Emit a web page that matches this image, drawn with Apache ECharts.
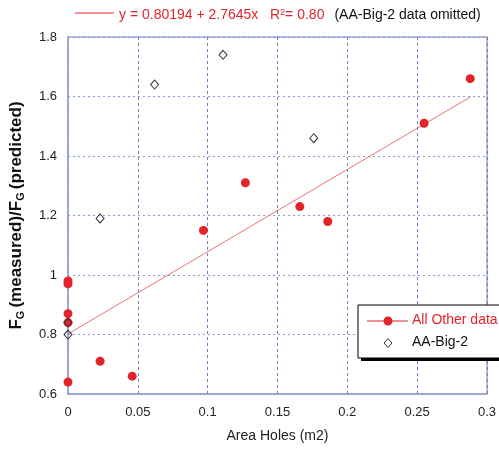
<!DOCTYPE html>
<html>
<head>
<meta charset="utf-8">
<script src="https://cdn.jsdelivr.net/npm/echarts@6/dist/echarts.min.js"></script>
<style>
  html, body { margin: 0; padding: 0; background: #fff; }
  #chart { width: 499px; height: 454px; }
</style>
</head>
<body>
<div id="chart"></div>
<script>
// measured vs predicted, "All Other data"
const otherX = [0, 0, 0, 0, 0, 0.023, 0.046, 0.097, 0.127, 0.166, 0.186, 0.255, 0.288];
const otherY = [0.97, 0.98, 0.87, 0.84, 0.64, 0.71, 0.66, 1.15, 1.31, 1.23, 1.18, 1.51, 1.66];

// AA-Big-2 points
const bigX = [0, 0, 0.023, 0.062, 0.111, 0.176];
const bigY = [0.80, 0.84, 1.19, 1.64, 1.74, 1.46];

// fitted line ends (y = 0.80194 + 2.7645x)
const fitX = [0, 0.288];
const fitY = [0.80194, 1.59812];

const xTicks = [0, 0.05, 0.1, 0.15, 0.2, 0.25, 0.3];
const yTicks = [0.6, 0.8, 1, 1.2, 1.4, 1.6, 1.8];

const zip = (xs, ys) => xs.map((x, i) => [x, ys[i]]);

const chart = echarts.init(document.getElementById('chart'));

const font = 'Liberation Sans, Arial, sans-serif';

const option = {
  animation: false,
  grid: {
    left: 67, right: 12, top: 37, bottom: 60,
    show: true,
    borderColor: '#9aa3d8',
    borderWidth: 1.5
  },
  xAxis: {
    type: 'value',
    min: xTicks[0],
    max: xTicks[xTicks.length - 1],
    interval: 0.05,
    name: 'Area Holes (m2)',
    nameLocation: 'middle',
    nameGap: 35,
    nameTextStyle: { fontFamily: font, fontSize: 14, color: '#222' },
    axisLine: { lineStyle: { color: '#9aa3d8', width: 1.5 } },
    axisTick: { show: false },
    axisLabel: { fontFamily: font, fontSize: 13, color: '#222', margin: 12 },
    splitLine: { lineStyle: { color: '#6f7fd0', type: [3, 3], width: 1 } }
  },
  yAxis: {
    type: 'value',
    min: yTicks[0],
    max: yTicks[yTicks.length - 1],
    interval: 0.2,
    name: '{b|F}{s|G }{b|(measured)/F}{s|G }{b|(predicted)}',
    nameLocation: 'middle',
    nameRotate: 90,
    nameGap: 42,
    nameTextStyle: {
      rich: {
        b: { fontFamily: font, fontSize: 17, fontWeight: 'bold', color: '#111' },
        s: { fontFamily: font, fontSize: 11, fontWeight: 'bold', color: '#111', verticalAlign: 'bottom', padding: [8, 0, 0, 0] }
      }
    },
    axisLine: { show: true, lineStyle: { color: '#9aa3d8', width: 1.5 } },
    axisTick: { show: false },
    axisLabel: { fontFamily: font, fontSize: 13, color: '#222', margin: 11 },
    splitLine: { lineStyle: { color: '#8d99d4', type: [2, 3], width: 1 } }
  },
  series: [
    {
      name: 'fit',
      type: 'line',
      data: zip(fitX, fitY),
      symbol: 'none',
      lineStyle: { color: '#ee7070', width: 1 },
      z: 2
    },
    {
      name: 'All Other data',
      type: 'scatter',
      data: zip(otherX, otherY),
      symbol: 'circle',
      symbolSize: 9,
      itemStyle: { color: '#e3242b', opacity: 1 },
      z: 3
    },
    {
      name: 'AA-Big-2',
      type: 'scatter',
      data: zip(bigX, bigY),
      symbol: 'diamond',
      symbolSize: [8, 9],
      itemStyle: { color: 'rgba(255,255,255,0)', borderColor: '#333', borderWidth: 1, opacity: 1 },
      z: 4
    }
  ],
  graphic: [
    // top equation line
    { type: 'line', shape: { x1: 75, y1: 13, x2: 114, y2: 13 }, style: { stroke: '#e3242b', lineWidth: 1 } },
    {
      type: 'text', left: 119, top: 8,
      style: {
        text: '{r|y = 0.80194 + 2.7645x   R}{sup|2}{r|= 0.80}   {k|(AA-Big-2 data omitted)}',
        rich: {
          r: { fontFamily: font, fontSize: 14, fill: '#e3242b' },
          sup: { fontFamily: font, fontSize: 9, fill: '#e3242b', verticalAlign: 'top', padding: [0, 0, 6, 0] },
          k: { fontFamily: font, fontSize: 14, fill: '#111' }
        }
      }
    },
    // bottom right legend box, shadow then frame
    {
      type: 'rect',
      shape: { x: 361, y: 308, width: 150, height: 53 },
      style: { fill: '#000' },
      z: 10
    },
    {
      type: 'rect',
      shape: { x: 358, y: 305, width: 150, height: 53 },
      style: { fill: '#fff', stroke: '#000', lineWidth: 1 },
      z: 10
    },
    { type: 'line', shape: { x1: 367, y1: 321, x2: 408, y2: 321 }, style: { stroke: '#e3242b', lineWidth: 1 }, z: 11 },
    { type: 'circle', shape: { cx: 388, cy: 321, r: 4.5 }, style: { fill: '#e3242b' }, z: 11 },
    { type: 'text', left: 412, top: 313, style: { text: 'All Other data', fontFamily: font, fontSize: 14, fill: '#e3242b' }, z: 11 },
    { type: 'polygon', shape: { points: [[388, 338.5], [392, 343], [388, 347.5], [384, 343]] }, style: { fill: '#fff', stroke: '#333', lineWidth: 1 }, z: 11 },
    { type: 'text', left: 412, top: 335, style: { text: 'AA-Big-2', fontFamily: font, fontSize: 14, fill: '#111' }, z: 11 }
  ]
};

chart.setOption(option);
</script>
</body>
</html>
